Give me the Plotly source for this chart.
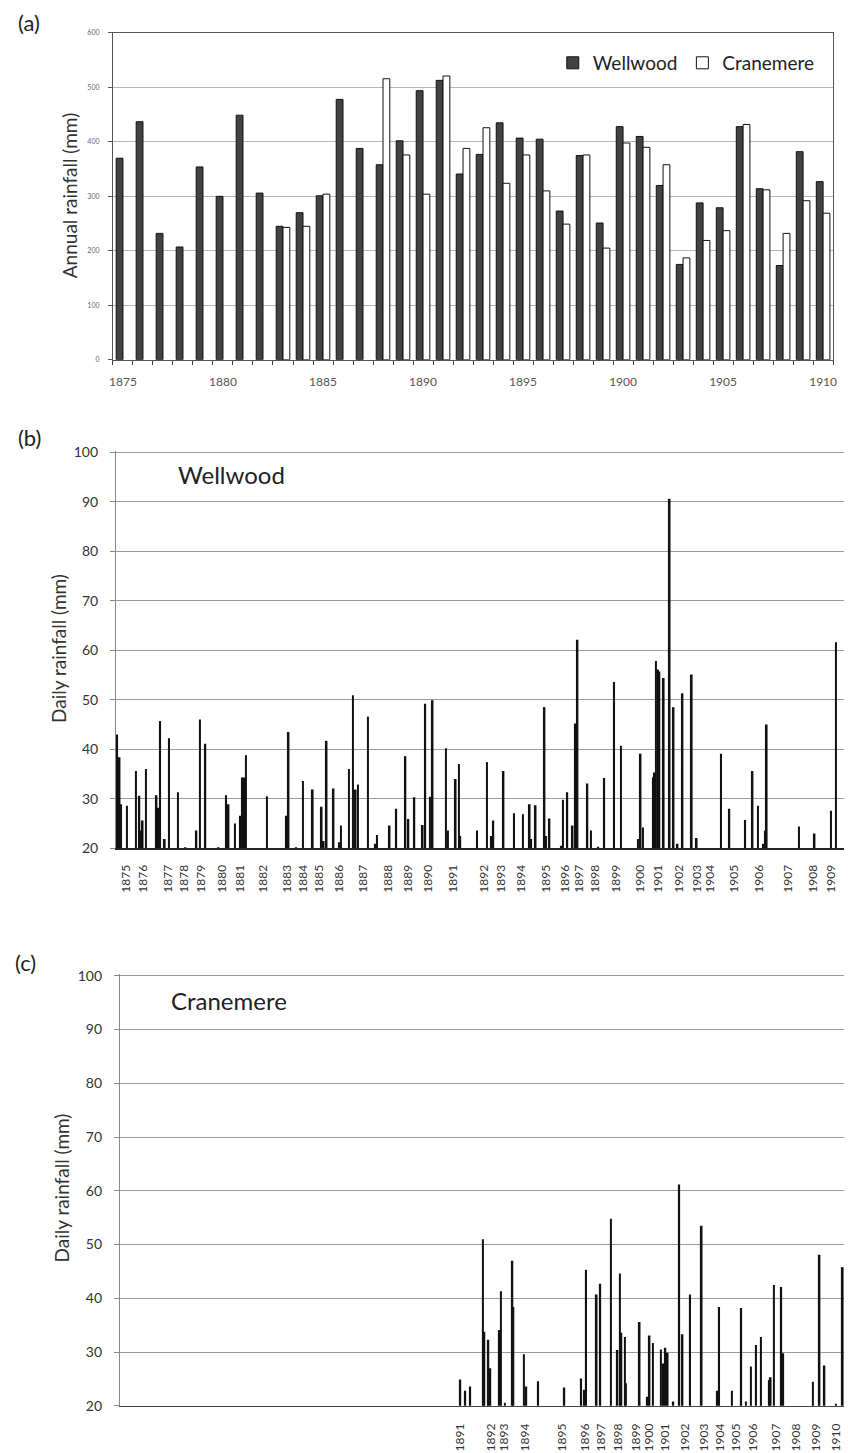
import plotly.graph_objects as go

FONT = "Lato"

# ---------------- Panel (a): annual rainfall ----------------
years = list(range(1875, 1911))
wellwood_annual = [370, 437, 232, 207, 354, 300, 449, 306, 245, 270,
                   301, 478, 388, 358, 402, 494, 513, 341, 377, 435,
                   407, 405, 273, 375, 251, 428, 410, 320, 175, 288,
                   279, 428, 314, 173, 382, 327]
cranemere_annual = [None, None, None, None, None, None, None, None, 243, 245,
                    304, None, None, 516, 376, 304, 521, 388, 426, 324,
                    376, 310, 249, 376, 205, 398, 390, 358, 187, 219,
                    237, 432, 312, 232, 292, 269]
annual_ticks = [1875, 1880, 1885, 1890, 1895, 1900, 1905, 1910]

# ---------------- Panel (b): Wellwood daily rainfall (record position along axis) ----------------
wellwood_daily_pos = [1.3, 3.7, 5.3, 11, 20.3, 23.7, 25.3, 27, 30.3, 41, 42.7, 44.7, 49.3, 53.7,
                      62.7, 70.3, 81.3, 84.7, 90.3, 103.7, 111.3, 113.7, 120.3, 125.7, 127.7,
                      129.7, 131.3, 152.3, 172, 174.3, 182, 188.7, 198.7, 207.7, 209.7, 212.7,
                      219.7, 225.3, 227, 235.3, 239.3, 242, 244.3, 254.3, 262, 263.7, 276.3,
                      283, 292.3, 295.3, 301.3, 309.7, 312.3, 317, 319.7, 333, 335.3, 343,
                      346.3, 347.7, 364.7, 374.7, 379.3, 381, 391.3, 402, 411, 417.7, 419.3,
                      423.7, 432.7, 434.3, 437.7, 449.7, 451.3, 455.7, 461, 463.7, 466, 476,
                      479.7, 487, 493, 503, 509.7, 527, 529.7, 532, 542, 543.7, 545.3, 547,
                      548.7, 553, 559, 563, 567, 572, 581.3, 586.3, 611, 619.3, 635.3, 642.7,
                      648, 653.7, 655.3, 657, 689.7, 705.3, 722, 727]
wellwood_daily_mm = [43.0, 38.4, 28.9, 28.6, 35.6, 30.6, 23.6, 25.6, 36.0, 30.7, 28.2, 45.7, 21.9, 42.2,
                     31.3, 20.2, 23.6, 46.0, 41.1, 20.2, 30.7, 28.9, 25.0, 26.6, 34.3,
                     34.3, 38.8, 30.5, 26.6, 43.5, 20.2, 33.6, 31.9, 28.4, 21.5, 41.7,
                     32.1, 21.2, 24.6, 36.0, 50.9, 31.9, 32.9, 46.6, 20.9, 22.7, 24.6,
                     28.0, 38.6, 25.9, 30.3, 24.7, 49.2, 30.4, 49.9, 40.2, 23.6, 34.0,
                     37.0, 22.5, 23.6, 37.4, 22.5, 25.6, 35.6, 27.1, 26.9, 28.9, 21.9,
                     28.7, 48.5, 22.5, 26.0, 20.5, 29.8, 31.3, 24.6, 45.2, 62.1, 33.1,
                     23.6, 20.3, 34.2, 53.6, 40.7, 21.9, 39.1, 24.2, 34.3, 35.3, 57.8, 56.1,
                     55.7, 54.4, 90.6, 48.5, 20.9, 51.3, 55.1, 22.1, 39.1, 28.0, 25.7, 35.6,
                     28.6, 20.9, 23.6, 45.0, 24.4, 23.0, 27.6, 61.6]
wellwood_tick_pos = [10, 27, 53, 69, 86, 107, 125, 149, 173, 189, 205, 225, 250, 275, 295, 315,
                     340, 372, 389, 409, 434, 453, 468, 484, 505, 529, 547, 569, 587, 600, 624,
                     649, 679, 704, 722]
wellwood_tick_labels = [str(y) for y in range(1875, 1910)]

# ---------------- Panel (c): Cranemere daily rainfall ----------------
cranemere_daily_pos = [343.7, 348.7, 353.7, 366.3, 368, 372, 374, 383, 384.7, 388.7, 396.3, 397.3,
                       408, 410.3, 422.3, 448.7, 465.7, 468.7, 470.7, 481.3, 485, 495.7, 502.3,
                       504.7, 506.3, 509.7, 510.7, 524.7, 532.3, 534.7, 538, 546.3, 548.7, 550.7,
                       553, 558.7, 564.7, 568, 575.7, 587.3, 603, 605, 618, 627.3, 632, 637,
                       642.3, 647.3, 655.3, 657, 660.3, 667.7, 669.7, 699.7, 706.3, 711.3, 723,
                       729.7]
cranemere_daily_mm = [24.9, 22.8, 23.6, 51.0, 33.8, 32.3, 27.0, 34.1, 41.3, 20.6, 47.0, 38.4,
                      29.6, 23.6, 24.6, 23.4, 25.1, 23.0, 45.3, 40.7, 42.7, 54.8, 30.4,
                      44.6, 33.6, 32.8, 24.2, 35.6, 21.7, 33.1, 31.7, 30.5, 27.9, 30.8,
                      29.9, 20.8, 61.2, 33.3, 40.7, 53.5, 22.8, 38.4, 22.8, 38.2, 20.8, 27.3,
                      31.3, 32.8, 24.8, 25.3, 42.5, 42.1, 29.8, 24.5, 48.1, 27.5, 20.4,
                      45.8]
cranemere_tick_pos = [343, 374.5, 388, 409.5, 446, 470, 485.5, 503, 521, 534.5, 550, 571, 589.5,
                      606, 622, 639, 662.5, 683, 703, 723]
cranemere_tick_labels = [str(y) for y in range(1891, 1911)]

W, H = 848, 1453


def fx(px):
    return px / W


def fy(py):
    # screen y -> paper fraction (small vertical correction for the page capture)
    return 1 - ((py - 7) / 0.9898) / H


fig = go.Figure()
fig.add_trace(go.Bar(x=years, y=wellwood_annual, name="Wellwood",
                     marker=dict(color="#424242", line=dict(color="#111111", width=1)),
                     xaxis="x", yaxis="y"))
fig.add_trace(go.Bar(x=years, y=cranemere_annual, name="Cranemere",
                     marker=dict(color="white", line=dict(color="#111111", width=1)),
                     xaxis="x", yaxis="y"))
fig.add_trace(go.Bar(x=wellwood_daily_pos, y=wellwood_daily_mm, width=1.7,
                     marker=dict(color="#111111", line=dict(width=0)),
                     xaxis="x2", yaxis="y2", showlegend=False))
fig.add_trace(go.Bar(x=cranemere_daily_pos, y=cranemere_daily_mm, width=1.7,
                     marker=dict(color="#111111", line=dict(width=0)),
                     xaxis="x3", yaxis="y3", showlegend=False))

fig.update_layout(
    width=W, height=H,
    margin=dict(l=0, r=0, t=0, b=0),
    paper_bgcolor="white", plot_bgcolor="white",
    font=dict(family=FONT, color="#222"),
    barmode="group", bargap=0.32, bargroupgap=0.0,
    legend=dict(orientation="h", x=fx(554), y=fy(62), xanchor="left", yanchor="middle",
                font=dict(size=19, family=FONT, color="#222"), bgcolor="rgba(0,0,0,0)",
                itemwidth=30, traceorder="normal"),
    xaxis=dict(domain=[fx(110), fx(837)], anchor="y", range=[1874.5, 1910.5],
               tickvals=annual_ticks, ticks="", showgrid=False, zeroline=False,
               showline=True, linecolor="#555", linewidth=1, mirror=True,
               minor=dict(ticks="outside", tick0=1874.5, dtick=1, ticklen=4,
                          tickcolor="#444", showgrid=False),
               ticklabelstandoff=11,
               tickfont=dict(size=12, color="#555")),
    yaxis=dict(domain=[fy(359), fy(32)], anchor="x", range=[0, 600], dtick=100,
               showgrid=True, gridcolor="#b5b5b5", zeroline=False,
               showline=True, linecolor="#555", linewidth=1, mirror=True,
               ticks="outside", ticklen=4, tickcolor="#555", ticklabelstandoff=7,
               tickfont=dict(size=7, color="#666")),
    xaxis2=dict(domain=[fx(113), 1.0], anchor="y2", range=[0, 735],
                tickvals=wellwood_tick_pos, ticktext=wellwood_tick_labels, tickangle=-90,
                ticks="", showgrid=False, zeroline=False,
                showline=True, linecolor="#222", linewidth=1.5, ticklabelstandoff=10,
                tickfont=dict(size=12, color="#333")),
    yaxis2=dict(domain=[fy(848), fy(450)], anchor="x2", range=[20, 100.3], dtick=10, tick0=20,
                showgrid=True, gridcolor="#9a9a9a", zeroline=False,
                showline=True, linecolor="#888", linewidth=1,
                ticks="outside", ticklen=5, tickcolor="#888", ticklabelstandoff=9,
                tickfont=dict(size=14, color="#333")),
    xaxis3=dict(domain=[fx(117), 1.0], anchor="y3", range=[0, 731],
                tickvals=cranemere_tick_pos, ticktext=cranemere_tick_labels, tickangle=-90,
                ticks="", showgrid=False, zeroline=False,
                showline=True, linecolor="#444", linewidth=1, ticklabelstandoff=12,
                tickfont=dict(size=12, color="#333")),
    yaxis3=dict(domain=[fy(1406), fy(974)], anchor="x3", range=[20, 100.3], dtick=10, tick0=20,
                showgrid=True, gridcolor="#9a9a9a", zeroline=False,
                showline=True, linecolor="#888", linewidth=1,
                ticks="outside", ticklen=5, tickcolor="#888", ticklabelstandoff=9,
                tickfont=dict(size=14, color="#333")),
)


def label(text, px, py, size, angle=0, color="#222"):
    return dict(text=text, x=fx(px), y=fy(py), xref="paper", yref="paper",
                xanchor="center", yanchor="middle", textangle=angle,
                showarrow=False, font=dict(size=size, family=FONT, color=color))


anns = [
    label("(a)", 25, 22, 22),
    label("(b)", 26, 437, 22),
    label("(c)", 22, 962, 22),
    label("Annual rainfall (mm)", 66, 195, 19, -90, "#333"),
    label("Daily rainfall (mm)", 55, 648, 19, -90, "#333"),
    label("Daily rainfall (mm)", 58, 1188, 19, -90, "#333"),
    label("Wellwood", 230, 474, 24),
    label("Cranemere", 227, 1000, 24),
]
fig.update_layout(annotations=anns)

fig.write_html("out.html", config={"displayModeBar": False},
               post_script="document.body.style.margin='0';")
